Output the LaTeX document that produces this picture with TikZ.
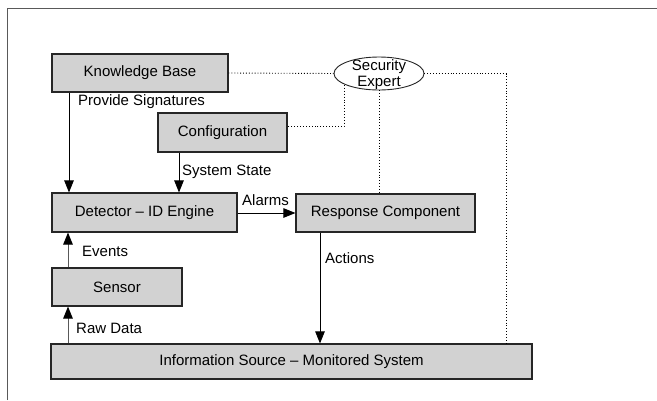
\documentclass[tikz,border=0pt]{standalone}
\usepackage{fontspec}
\setmainfont{Liberation Sans}
\usetikzlibrary{shapes.geometric,arrows.meta}
\begin{document}
\begin{tikzpicture}[x=1pt,y=-1pt,
  every node/.style={font=\fontsize{15}{15.5}\selectfont},
  box/.style={draw=black!85,line width=1.1pt,fill=gray!35,inner sep=0pt,anchor=center},
  lbl/.style={anchor=west,inner sep=0pt},
  flow/.style={line width=0.9pt,-{Triangle[length=12pt,width=9.5pt]}},
  gflow/.style={line width=1pt,draw=black!65,-{Triangle[length=12pt,width=9.5pt,color=black]}},
  link/.style={dotted,line width=0.9pt},
  frame/.style={draw=black!65,line width=1.8pt}]
\useasboundingbox (0,0) rectangle (657,400);
\draw[frame] (7.5,400) -- (7.5,8.5) -- (657,8.5);

\node[box,minimum width=176pt,minimum height=38pt] (kb) at (140,73) {Knowledge Base};
\node[box,minimum width=129pt,minimum height=39pt] (cfg) at (222.5,132.5) {Configuration};
\node[box,minimum width=185pt,minimum height=39pt] (det) at (144.5,212.5) {Detector -- ID Engine};
\node[box,minimum width=179pt,minimum height=38pt] (resp) at (385.5,213) {Response Component};
\node[box,minimum width=130pt,minimum height=38pt] (sen) at (117,287) {Sensor};
\node[box,minimum width=481pt,minimum height=35pt] (info) at (291.5,361.5) {Information Source -- Monitored System};

\node[draw=black!85,line width=0.9pt,fill=white,ellipse,minimum width=90pt,minimum height=33pt,inner sep=0pt] (se) at (379,73.5) {};
\node[align=center,inner sep=0pt] (setxt) at (379,74.5) {Security\\Expert};

% flows
\draw[flow] (kb.south -| 69,0) -- (det.north -| 69,0);
\draw[flow] (cfg.south -| 179,0) -- (det.north -| 179,0);
\draw[flow] (det.east |- 0,213) -- (resp.west |- 0,213);
\draw[gflow] (sen.north -| 68,0) -- (det.south -| 68,0);
\draw[gflow] (info.north -| 68,0) -- (sen.south -| 68,0);
\draw[flow] (resp.south -| 320,0) -- (info.north -| 320,0);

% dotted links
\draw[link] (kb.east) -- (se.west);
\draw[link] (se.east) -- (506,73.5) -- (info.north -| 506,0);
\draw[link] (344,85) -- (344,126) -- (cfg.east |- 0,126);
\draw[link] (se.south) -- (resp.north -| se.south);

% labels
\node[lbl] (lps) at (78,102) {Provide Signatures};
\node[lbl] (lss) at (182,172) {System State};
\node[lbl] (lal) at (242,200) {Alarms};
\node[lbl] (lev) at (82,251) {Events};
\node[lbl] (lac) at (325,258) {Actions};
\node[lbl] (lrd) at (76,328) {Raw Data};
\end{tikzpicture}
\end{document}
